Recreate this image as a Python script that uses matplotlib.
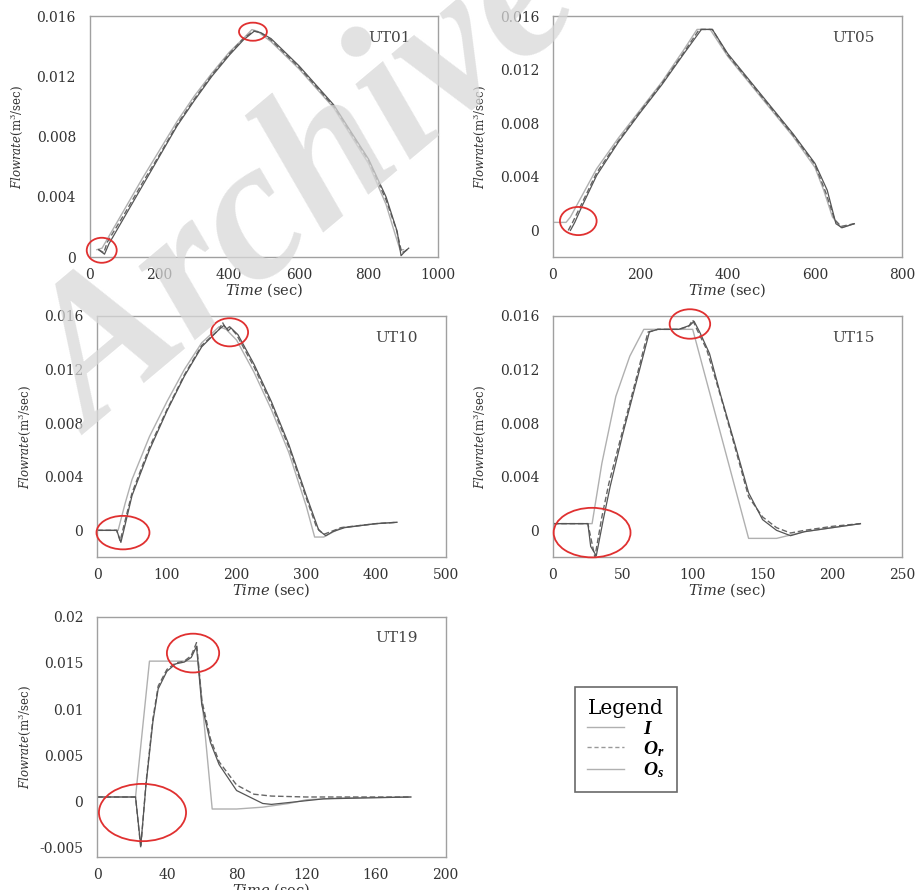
import numpy as np
import matplotlib
matplotlib.use('Agg')
import matplotlib.pyplot as plt
from matplotlib.patches import Ellipse
from matplotlib.lines import Line2D

plt.rcParams['font.family'] = ['DejaVu Serif']
plt.rcParams['mathtext.fontset'] = 'custom'
plt.rcParams['mathtext.rm'] = 'DejaVu Serif'
plt.rcParams['mathtext.it'] = 'DejaVu Serif:italic'
plt.rcParams['mathtext.bf'] = 'Liberation Serif:italic:bold'

# ---- data (time in sec, flowrate in m3/sec) ----
# UT01
ut01_i_t = [20, 35, 60, 100, 150, 200, 250, 300, 350, 400, 440, 465, 480, 520, 600, 700, 800, 850, 875, 890, 900]
ut01_i_v = [0.0005, 0.0006, 0.0016, 0.0032, 0.0052, 0.0071, 0.0090, 0.0107, 0.0122, 0.0136, 0.0145, 0.0151, 0.0150,
            0.0143, 0.0125, 0.0099, 0.0062, 0.0035, 0.0016, 0.0005, 0.0005]
ut01_or_t = [25, 40, 50, 100, 150, 200, 250, 300, 350, 400, 440, 470, 490, 520, 600, 700, 800, 850, 880, 895, 905, 915]
ut01_or_v = [0.0005, 0.0003, 0.0010, 0.0029, 0.0049, 0.0068, 0.0088, 0.0105, 0.0121, 0.0135, 0.0145, 0.0150, 0.0149,
             0.0144, 0.0126, 0.0100, 0.0064, 0.0038, 0.0018, 0.0003, 0.0004, 0.0006]
ut01_os_t = [25, 42, 55, 100, 150, 200, 250, 300, 350, 400, 440, 472, 490, 520, 600, 700, 800, 850, 882, 893, 905, 915]
ut01_os_v = [0.0005, 0.0002, 0.0009, 0.0027, 0.0047, 0.0067, 0.0087, 0.0104, 0.0120, 0.0134, 0.0144, 0.0150, 0.0149,
             0.0145, 0.0127, 0.0101, 0.0065, 0.0040, 0.0017, 0.0001, 0.0004, 0.0006]

# UT05
ut05_i_t = [0, 30, 40, 60, 100, 150, 200, 250, 300, 330, 360, 400, 450, 500, 550, 600, 620, 640, 660, 690]
ut05_i_v = [0.0006, 0.0006, 0.0010, 0.0022, 0.0046, 0.0069, 0.0090, 0.0111, 0.0135, 0.0150, 0.0150, 0.0130, 0.0110,
            0.0090, 0.0070, 0.0047, 0.0030, 0.0010, 0.0002, 0.0005]
ut05_or_t = [35, 45, 60, 100, 150, 200, 250, 300, 335, 365, 400, 450, 500, 550, 600, 625, 645, 660, 690]
ut05_or_v = [0.0000, 0.0006, 0.0016, 0.0043, 0.0067, 0.0089, 0.0110, 0.0133, 0.0150, 0.0150, 0.0131, 0.0111, 0.0091,
             0.0071, 0.0049, 0.0028, 0.0008, 0.0003, 0.0005]
ut05_os_t = [40, 50, 65, 100, 150, 200, 250, 300, 340, 365, 400, 450, 500, 550, 600, 628, 648, 662, 690]
ut05_os_v = [0.0000, 0.0006, 0.0017, 0.0041, 0.0066, 0.0088, 0.0109, 0.0132, 0.0150, 0.0150, 0.0132, 0.0112, 0.0092,
             0.0072, 0.0050, 0.0030, 0.0005, 0.0002, 0.0005]

# UT10
ut10_i_t = [0, 30, 40, 50, 75, 100, 125, 150, 175, 185, 200, 225, 250, 275, 300, 312, 325, 350, 400, 430]
ut10_i_v = [0.0000, 0.0000, 0.0020, 0.0038, 0.0070, 0.0096, 0.0120, 0.0140, 0.0152, 0.0150, 0.0142, 0.0118, 0.0090,
            0.0058, 0.0018, -0.0005, -0.0005, 0.0002, 0.0005, 0.0006]
ut10_or_t = [0, 28, 33, 38, 50, 75, 100, 125, 150, 175, 180, 185, 190, 200, 225, 250, 275, 300, 315, 325, 335, 350,
             400, 430]
ut10_or_v = [0.0000, 0.0000, -0.0008, 0.0003, 0.0028, 0.0062, 0.0090, 0.0116, 0.0138, 0.0150, 0.0155, 0.0150, 0.0152,
             0.0146, 0.0122, 0.0094, 0.0062, 0.0024, 0.0002, -0.0003, -0.0001, 0.0002, 0.0005, 0.0006]
ut10_os_t = [0, 28, 34, 40, 50, 75, 100, 125, 150, 175, 182, 188, 192, 202, 225, 250, 275, 300, 318, 328, 338, 355,
             400, 430]
ut10_os_v = [0.0000, 0.0000, -0.0009, 0.0004, 0.0026, 0.0060, 0.0089, 0.0115, 0.0137, 0.0150, 0.0153, 0.0149, 0.0151,
             0.0146, 0.0124, 0.0096, 0.0064, 0.0026, 0.0000, -0.0004, -0.0001, 0.0002, 0.0005, 0.0006]

# UT15
ut15_i_t = [0, 28, 35, 45, 55, 65, 100, 140, 160, 180, 200, 220]
ut15_i_v = [0.0005, 0.0005, 0.0050, 0.0100, 0.0130, 0.0150, 0.0150, -0.0006, -0.0006, -0.0001, 0.0002, 0.0005]
ut15_or_t = [0, 25, 30, 35, 40, 50, 60, 68, 75, 90, 97, 100, 103, 110, 120, 130, 140, 150, 160, 170, 180, 200, 220]
ut15_or_v = [0.0005, 0.0005, -0.0020, 0.0010, 0.0035, 0.0075, 0.0115, 0.0148, 0.0150, 0.0150, 0.0152, 0.0157, 0.0150,
             0.0135, 0.0100, 0.0063, 0.0025, 0.0010, 0.0002, -0.0002, 0.0000, 0.0003, 0.0005]
ut15_os_t = [0, 25, 27, 31, 36, 41, 50, 60, 69, 75, 90, 98, 101, 105, 112, 120, 130, 140, 150, 160, 170, 180, 200, 220]
ut15_os_v = [0.0005, 0.0005, -0.0012, -0.0019, 0.0008, 0.0033, 0.0072, 0.0112, 0.0148, 0.0150, 0.0150, 0.0153,
             0.0156, 0.0148, 0.0132, 0.0101, 0.0065, 0.0028, 0.0008, 0.0000, -0.0004, -0.0001, 0.0002, 0.0005]

# UT19
ut19_i_t = [0, 22, 30, 45, 58, 66, 80, 95, 110, 120, 140, 180]
ut19_i_v = [0.0005, 0.0005, 0.0152, 0.0152, 0.0152, -0.0008, -0.0008, -0.0006, -0.0002, 0.0002, 0.0004, 0.0005]
ut19_or_t = [0, 22, 25, 28, 32, 35, 40, 45, 50, 54, 57, 60, 65, 70, 80, 90, 100, 120, 150, 180]
ut19_or_v = [0.0005, 0.0005, -0.0050, 0.0020, 0.0090, 0.0125, 0.0143, 0.0150, 0.0152, 0.0158, 0.0172, 0.0110, 0.0068,
             0.0043, 0.0018, 0.0008, 0.0006, 0.0005, 0.0005, 0.0005]
ut19_os_t = [0, 22, 25, 28, 32, 35, 40, 45, 50, 54, 57, 60, 65, 70, 80, 95, 100, 115, 130, 180]
ut19_os_v = [0.0005, 0.0005, -0.0048, 0.0018, 0.0087, 0.0122, 0.0141, 0.0149, 0.0151, 0.0156, 0.0168, 0.0105, 0.0064,
             0.0040, 0.0012, -0.0002, -0.0003, 0.0000, 0.0003, 0.0005]

panel_names = ['UT01', 'UT05', 'UT10', 'UT15', 'UT19']
x_limits = [(0, 1000), (0, 800), (0, 500), (0, 250), (0, 200)]
x_ticks = [[0, 200, 400, 600, 800, 1000], [0, 200, 400, 600, 800], [0, 100, 200, 300, 400, 500],
           [0, 50, 100, 150, 200, 250], [0, 40, 80, 120, 160, 200]]
y_limits = [(0, 0.016), (-0.002, 0.016), (-0.002, 0.016), (-0.002, 0.016), (-0.006, 0.02)]
y_ticks = [[0, 0.004, 0.008, 0.012, 0.016]] * 4 + [[-0.005, 0, 0.005, 0.01, 0.015, 0.02]]
y_ticklabels = [['0', '0.004', '0.008', '0.012', '0.016']] * 4 + [['-0.005', '0', '0.005', '0.01', '0.015', '0.02']]

series = [
    (ut01_i_t, ut01_i_v, ut01_or_t, ut01_or_v, ut01_os_t, ut01_os_v),
    (ut05_i_t, ut05_i_v, ut05_or_t, ut05_or_v, ut05_os_t, ut05_os_v),
    (ut10_i_t, ut10_i_v, ut10_or_t, ut10_or_v, ut10_os_t, ut10_os_v),
    (ut15_i_t, ut15_i_v, ut15_or_t, ut15_or_v, ut15_os_t, ut15_os_v),
    (ut19_i_t, ut19_i_v, ut19_or_t, ut19_or_v, ut19_os_t, ut19_os_v),
]

# red highlight circles: (center t, center q, width t, height q)
circles = [
    [(34, 0.00046, 86, 0.00166), (468, 0.01496, 80, 0.0012)],
    [(58, 0.0007, 84, 0.0021)],
    [(37, -0.00017, 76, 0.0025), (190, 0.01478, 53, 0.0021)],
    [(28, -0.00017, 55, 0.0037), (98, 0.0154, 29, 0.0022)],
    [(26, -0.00118, 50, 0.0062), (55, 0.01607, 30, 0.0042)],
]

# axes rectangles in figure fraction
rects = [
    [0.098, 0.711, 0.380, 0.271],
    [0.603, 0.711, 0.381, 0.271],
    [0.106, 0.374, 0.380, 0.271],
    [0.603, 0.374, 0.381, 0.271],
    [0.106, 0.037, 0.380, 0.270],
]

fig = plt.figure(figsize=(9.17, 8.9), dpi=100)

for k in range(5):
    ax = fig.add_axes(rects[k])
    i_t, i_v, or_t, or_v, os_t, os_v = series[k]
    ax.plot(i_t, i_v, color='#b0b0b0', lw=1.0)
    ax.plot(or_t, or_v, color='#666666', lw=1.0, ls=(0, (4, 2)))
    ax.plot(os_t, os_v, color='#555555', lw=0.9)
    for (cx, cy, w, h) in circles[k]:
        ax.add_patch(Ellipse((cx, cy), w, h, fill=False, edgecolor='#e03030', lw=1.3,
                             zorder=5, clip_on=False))
    ax.set_xlim(x_limits[k])
    ax.set_ylim(y_limits[k])
    ax.set_xticks(x_ticks[k])
    ax.set_xticklabels([str(v) for v in x_ticks[k]])
    ax.set_yticks(y_ticks[k])
    ax.set_yticklabels(y_ticklabels[k])
    ax.tick_params(length=0, labelsize=10, colors='#333333')
    ax.tick_params(axis='y', pad=10)
    ax.tick_params(axis='x', pad=8)
    for sp in ax.spines.values():
        sp.set_color('#a0a0a0')
        sp.set_linewidth(1.0)
    ax.set_xlabel(r'$\mathit{Time}$ (sec)', fontsize=10.5, color='#333333')
    ax.xaxis.set_label_coords(0.5, -0.10)
    ax.set_ylabel(r'$\mathit{Flowrate}$(m$^3$/sec)', fontsize=8.5, color='#333333')
    ax.yaxis.set_label_coords(-0.185, 0.5)
    ax.text(0.86, 0.91, panel_names[k], transform=ax.transAxes, fontsize=11,
            color='#444444', ha='center', va='center')

handles = [Line2D([], [], color='#b0b0b0', lw=1.0),
           Line2D([], [], color='#999999', lw=1.0, ls=(0, (3, 2))),
           Line2D([], [], color='#b0b0b0', lw=1.0)]
leg = fig.legend(handles, [r'$\mathbf{I}$', r'$\mathbf{O_r}$', r'$\mathbf{O_s}$'],
                 loc='upper left', bbox_to_anchor=(0.627, 0.228), title='Legend',
                 fontsize=14, title_fontsize=14.5, frameon=True, fancybox=False,
                 edgecolor='#444444', handlelength=1.9, labelspacing=0.08,
                 borderpad=0.62, handletextpad=1.0, borderaxespad=0)
leg.get_frame().set_linewidth(1.2)

# watermark
fig.text(0.338, 0.787, 'Archive', fontsize=145, fontweight='bold', style='italic',
         family='Liberation Serif', color='#d8d8d8', alpha=0.75, rotation=40,
         ha='center', va='center', zorder=10)

fig.savefig('out.png', dpi=100)
